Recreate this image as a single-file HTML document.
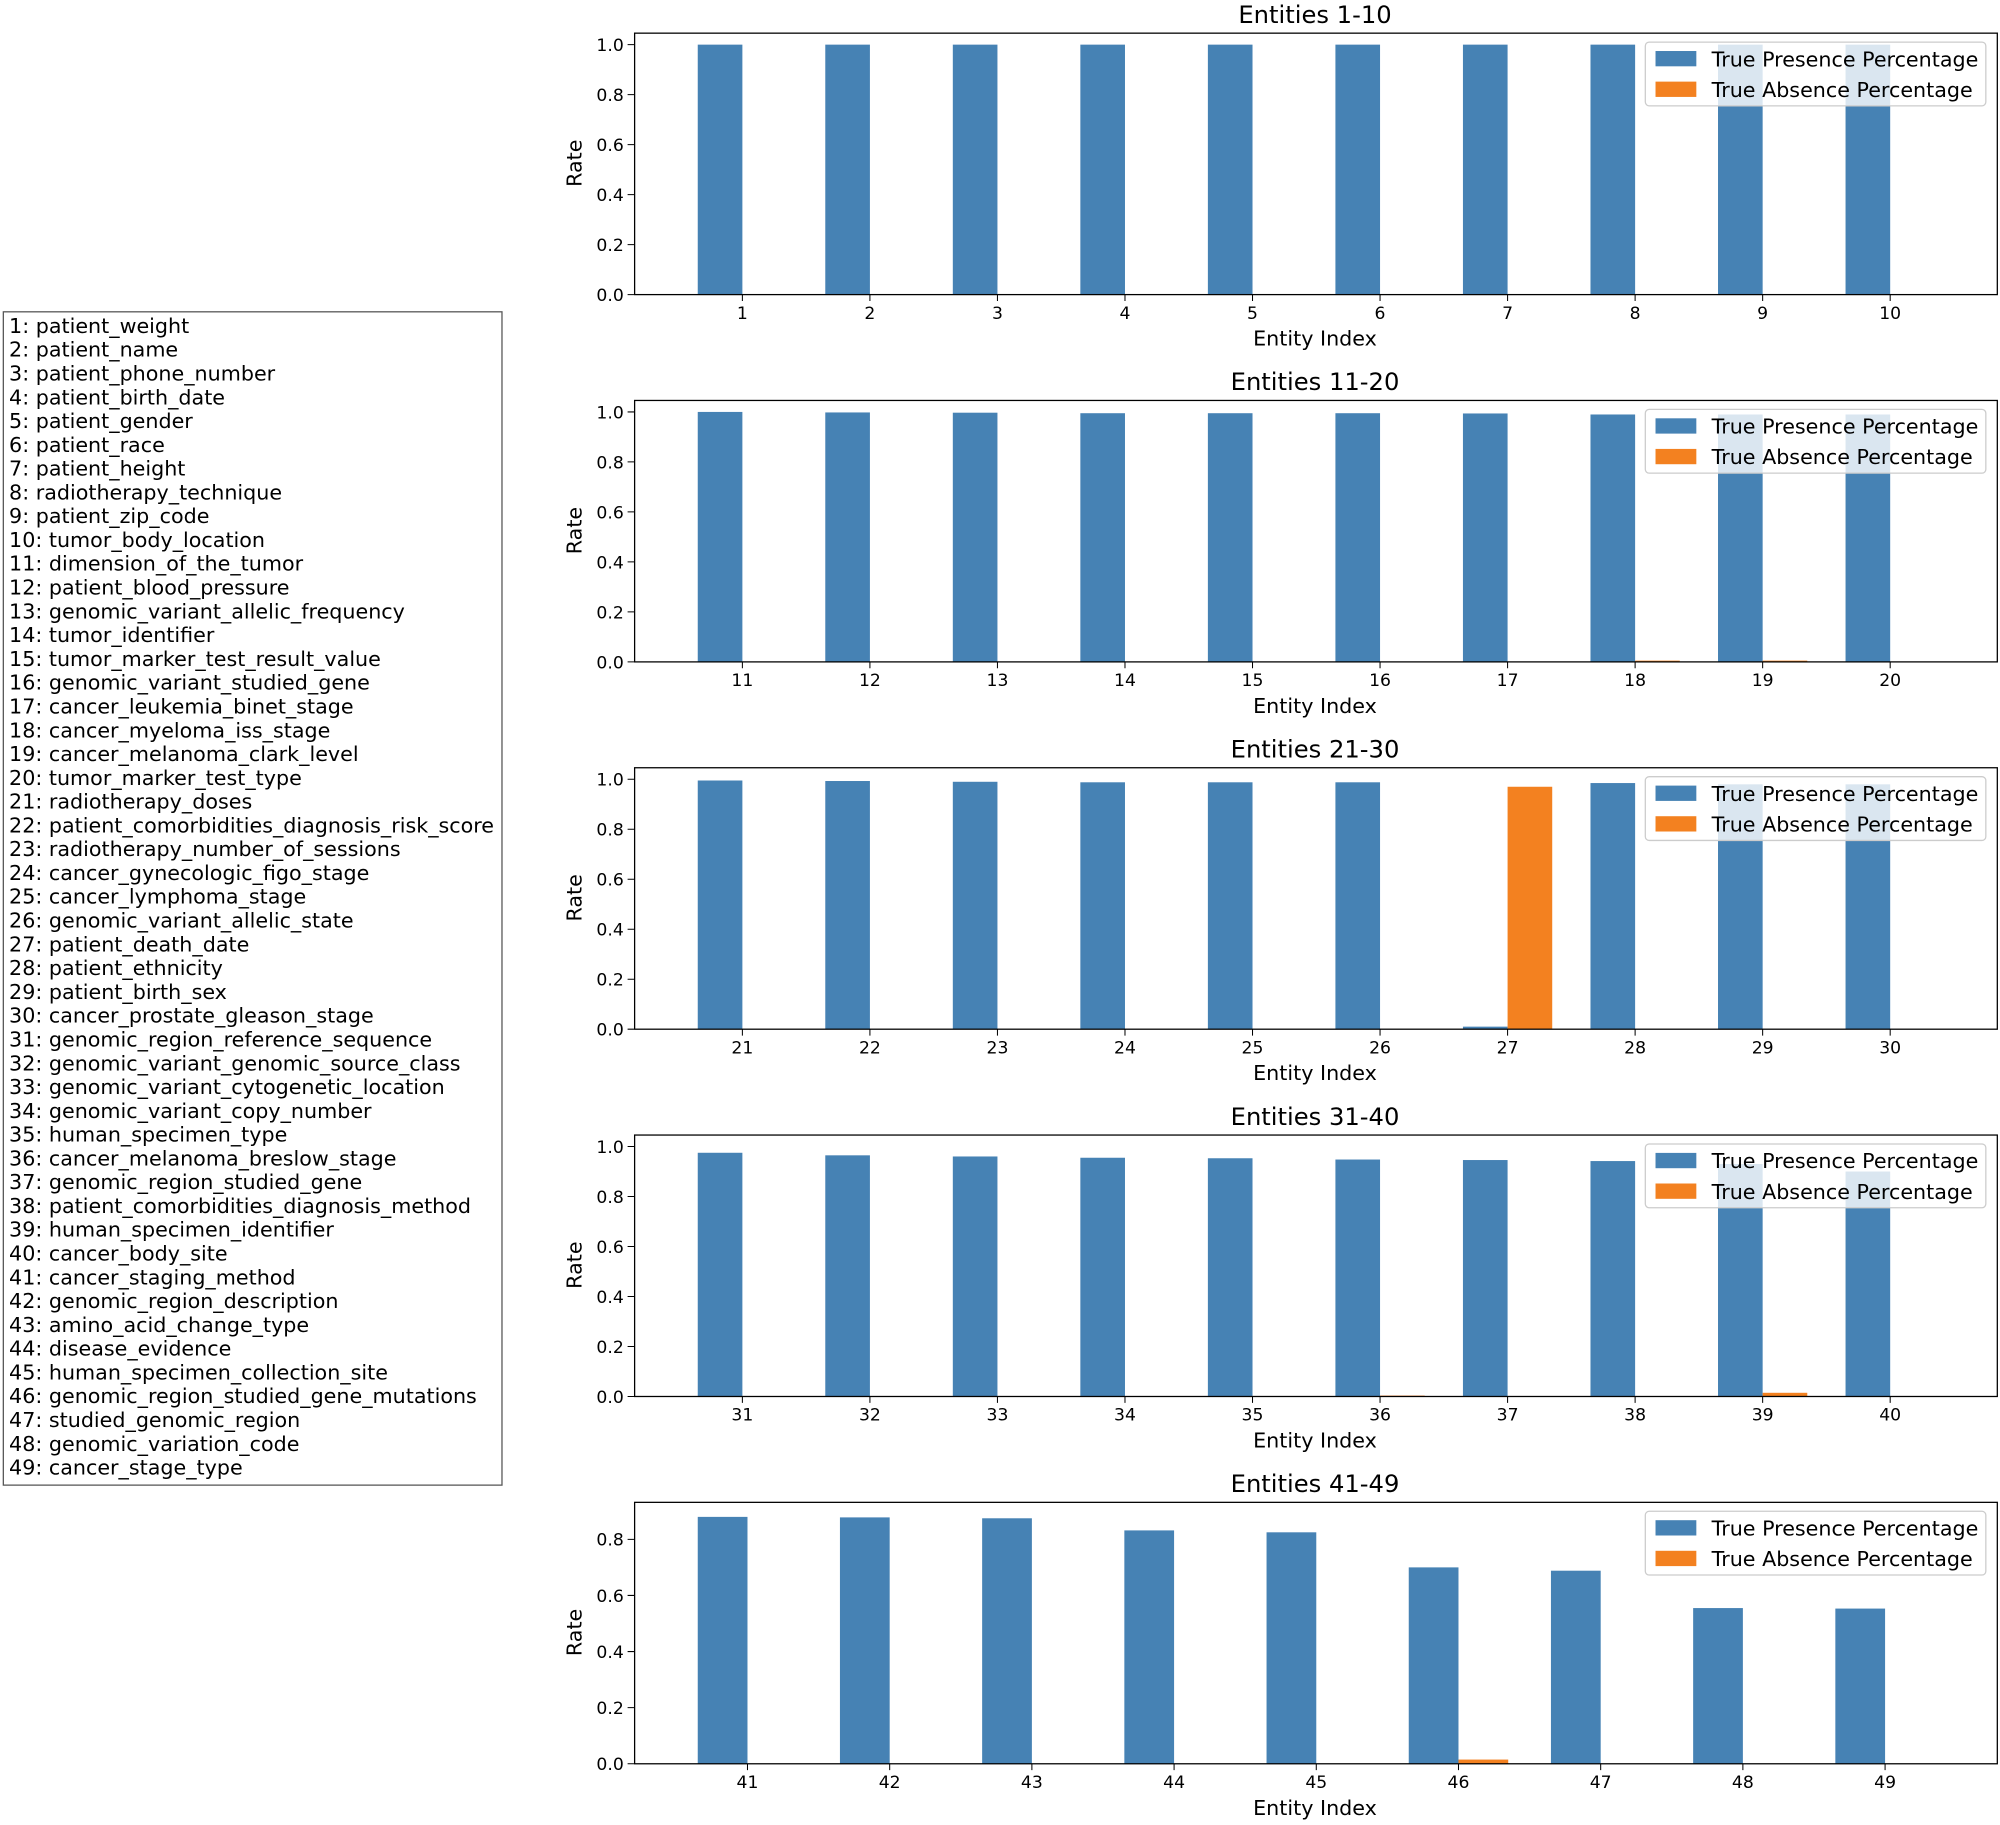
<!DOCTYPE html>
<html><head><meta charset="utf-8"><style>
html,body{margin:0;padding:0;background:#fff}
svg{display:block}
text{font-family:"DejaVu Sans","Liberation Sans",sans-serif;fill:#000}
.t{font-size:13.5px}
.yl text{text-anchor:end}
.xl text{text-anchor:middle}
.ax{font-size:16.2px}
.ti{font-size:19px;text-anchor:middle}
.lg{font-size:16.2px}
.b{fill:#4682b4}.o{fill:#f38120}
.nm{font-size:16.2px}
</style></head><body>
<svg width="2000" height="1825" viewBox="0 0 1568 1431" xmlns="http://www.w3.org/2000/svg">
<defs>
<g id="yt"><path d="M492 231H497M492 191.8H497M492 152.6H497M492 113.4H497M492 74.2H497M492 35H497" stroke="#000" stroke-width="0.8"/></g>
<g id="xt"><path d="M582 231V236M682 231V236M782 231V236M882 231V236M982 231V236M1082 231V236M1182 231V236M1282 231V236M1382 231V236M1482 231V236" stroke="#000" stroke-width="0.8"/></g>
<g id="lgb"><rect x="1290" y="33" width="267" height="50" rx="3" fill="#fff" fill-opacity="0.8" stroke="#ccc"/><rect x="1298" y="40" width="32" height="12" class="b"/><rect x="1298" y="64" width="32" height="12" class="o"/></g>
</defs>

<rect x="2.5" y="244.5" width="391" height="920" fill="#fff" stroke="#555"/>
<g class="nm">
<text x="7" y="261">1: patient_weight</text>
<text x="7" y="279.7">2: patient_name</text>
<text x="7" y="298.3">3: patient_phone_number</text>
<text x="7" y="317">4: patient_birth_date</text>
<text x="7" y="335.6">5: patient_gender</text>
<text x="7" y="354.3">6: patient_race</text>
<text x="7" y="372.9">7: patient_height</text>
<text x="7" y="391.6">8: radiotherapy_technique</text>
<text x="7" y="410.2">9: patient_zip_code</text>
<text x="7" y="428.9">10: tumor_body_location</text>
<text x="7" y="447.5">11: dimension_of_the_tumor</text>
<text x="7" y="466.2">12: patient_blood_pressure</text>
<text x="7" y="484.8">13: genomic_variant_allelic_frequency</text>
<text x="7" y="503.5">14: tumor_identifier</text>
<text x="7" y="522.1">15: tumor_marker_test_result_value</text>
<text x="7" y="540.8">16: genomic_variant_studied_gene</text>
<text x="7" y="559.4">17: cancer_leukemia_binet_stage</text>
<text x="7" y="578.1">18: cancer_myeloma_iss_stage</text>
<text x="7" y="596.7">19: cancer_melanoma_clark_level</text>
<text x="7" y="615.4">20: tumor_marker_test_type</text>
<text x="7" y="634">21: radiotherapy_doses</text>
<text x="7" y="652.7">22: patient_comorbidities_diagnosis_risk_score</text>
<text x="7" y="671.3">23: radiotherapy_number_of_sessions</text>
<text x="7" y="690">24: cancer_gynecologic_figo_stage</text>
<text x="7" y="708.6">25: cancer_lymphoma_stage</text>
<text x="7" y="727.3">26: genomic_variant_allelic_state</text>
<text x="7" y="745.9">27: patient_death_date</text>
<text x="7" y="764.6">28: patient_ethnicity</text>
<text x="7" y="783.2">29: patient_birth_sex</text>
<text x="7" y="801.9">30: cancer_prostate_gleason_stage</text>
<text x="7" y="820.5">31: genomic_region_reference_sequence</text>
<text x="7" y="839.2">32: genomic_variant_genomic_source_class</text>
<text x="7" y="857.8">33: genomic_variant_cytogenetic_location</text>
<text x="7" y="876.5">34: genomic_variant_copy_number</text>
<text x="7" y="895.1">35: human_specimen_type</text>
<text x="7" y="913.8">36: cancer_melanoma_breslow_stage</text>
<text x="7" y="932.4">37: genomic_region_studied_gene</text>
<text x="7" y="951.1">38: patient_comorbidities_diagnosis_method</text>
<text x="7" y="969.7">39: human_specimen_identifier</text>
<text x="7" y="988.4">40: cancer_body_site</text>
<text x="7" y="1007">41: cancer_staging_method</text>
<text x="7" y="1025.7">42: genomic_region_description</text>
<text x="7" y="1044.3">43: amino_acid_change_type</text>
<text x="7" y="1063">44: disease_evidence</text>
<text x="7" y="1081.6">45: human_specimen_collection_site</text>
<text x="7" y="1100.3">46: genomic_region_studied_gene_mutations</text>
<text x="7" y="1118.9">47: studied_genomic_region</text>
<text x="7" y="1137.6">48: genomic_variation_code</text>
<text x="7" y="1156.2">49: cancer_stage_type</text>
</g>

<g>
<rect x="547" y="35" width="35" height="196" class="b"/><rect x="647" y="35" width="35" height="196" class="b"/><rect x="747" y="35" width="35" height="196" class="b"/><rect x="847" y="35" width="35" height="196" class="b"/><rect x="947" y="35" width="35" height="196" class="b"/><rect x="1047" y="35" width="35" height="196" class="b"/><rect x="1147" y="35" width="35" height="196" class="b"/><rect x="1247" y="35" width="35" height="196" class="b"/><rect x="1347" y="35" width="35" height="196" class="b"/><rect x="1447" y="35" width="35" height="196" class="b"/>
<use href="#lgb"/>
<text x="1342" y="52" class="lg">True Presence Percentage</text><text x="1342" y="76" class="lg">True Absence Percentage</text>
<rect x="497.5" y="26" width="1068.5" height="205" fill="none" stroke="#000" stroke-width="1"/>
<use href="#yt"/><use href="#xt"/>
<g class="yl t"><text x="489" y="236">0.0</text><text x="489" y="196.8">0.2</text><text x="489" y="157.6">0.4</text><text x="489" y="118.4">0.6</text><text x="489" y="79.2">0.8</text><text x="489" y="40">1.0</text></g>
<g class="xl t"><text x="582" y="250">1</text><text x="682" y="250">2</text><text x="782" y="250">3</text><text x="882" y="250">4</text><text x="982" y="250">5</text><text x="1082" y="250">6</text><text x="1182" y="250">7</text><text x="1282" y="250">8</text><text x="1382" y="250">9</text><text x="1482" y="250">10</text></g>
<text x="1031" y="271" class="ax" text-anchor="middle">Entity Index</text>
<text transform="translate(456 128) rotate(-90)" class="ax" text-anchor="middle">Rate</text>
<text x="1031" y="18" class="ti">Entities 1-10</text>
</g>

<g transform="translate(0 288)">
<rect x="547" y="35" width="35" height="196" class="b"/><rect x="647" y="35.4" width="35" height="195.6" class="b"/><rect x="747" y="35.6" width="35" height="195.4" class="b"/><rect x="847" y="36" width="35" height="195" class="b"/><rect x="947" y="36" width="35" height="195" class="b"/><rect x="1047" y="36" width="35" height="195" class="b"/><rect x="1147" y="36.2" width="35" height="194.8" class="b"/><rect x="1247" y="37" width="35" height="194" class="b"/><rect x="1347" y="37" width="35" height="194" class="b"/><rect x="1447" y="37" width="35" height="194" class="b"/>
<rect x="1282" y="230" width="35" height="1" class="o"/><rect x="1382" y="230" width="35" height="1" class="o"/>
<use href="#lgb"/>
<text x="1342" y="52" class="lg">True Presence Percentage</text><text x="1342" y="76" class="lg">True Absence Percentage</text>
<rect x="497.5" y="26" width="1068.5" height="205" fill="none" stroke="#000" stroke-width="1"/>
<use href="#yt"/><use href="#xt"/>
<g class="yl t"><text x="489" y="236">0.0</text><text x="489" y="196.8">0.2</text><text x="489" y="157.6">0.4</text><text x="489" y="118.4">0.6</text><text x="489" y="79.2">0.8</text><text x="489" y="40">1.0</text></g>
<g class="xl t"><text x="582" y="250">11</text><text x="682" y="250">12</text><text x="782" y="250">13</text><text x="882" y="250">14</text><text x="982" y="250">15</text><text x="1082" y="250">16</text><text x="1182" y="250">17</text><text x="1282" y="250">18</text><text x="1382" y="250">19</text><text x="1482" y="250">20</text></g>
<text x="1031" y="271" class="ax" text-anchor="middle">Entity Index</text>
<text transform="translate(456 128) rotate(-90)" class="ax" text-anchor="middle">Rate</text>
<text x="1031" y="18" class="ti">Entities 11-20</text>
</g>

<g transform="translate(0 576)">
<rect x="547" y="36" width="35" height="195" class="b"/><rect x="647" y="36.4" width="35" height="194.6" class="b"/><rect x="747" y="37" width="35" height="194" class="b"/><rect x="847" y="37.4" width="35" height="193.6" class="b"/><rect x="947" y="37.4" width="35" height="193.6" class="b"/><rect x="1047" y="37.4" width="35" height="193.6" class="b"/><rect x="1147" y="229" width="35" height="2" class="b"/><rect x="1247" y="38" width="35" height="193" class="b"/><rect x="1347" y="39" width="35" height="192" class="b"/><rect x="1447" y="39" width="35" height="192" class="b"/>
<rect x="1182" y="40.9" width="35" height="190.1" class="o"/>
<use href="#lgb"/>
<text x="1342" y="52" class="lg">True Presence Percentage</text><text x="1342" y="76" class="lg">True Absence Percentage</text>
<rect x="497.5" y="26" width="1068.5" height="205" fill="none" stroke="#000" stroke-width="1"/>
<use href="#yt"/><use href="#xt"/>
<g class="yl t"><text x="489" y="236">0.0</text><text x="489" y="196.8">0.2</text><text x="489" y="157.6">0.4</text><text x="489" y="118.4">0.6</text><text x="489" y="79.2">0.8</text><text x="489" y="40">1.0</text></g>
<g class="xl t"><text x="582" y="250">21</text><text x="682" y="250">22</text><text x="782" y="250">23</text><text x="882" y="250">24</text><text x="982" y="250">25</text><text x="1082" y="250">26</text><text x="1182" y="250">27</text><text x="1282" y="250">28</text><text x="1382" y="250">29</text><text x="1482" y="250">30</text></g>
<text x="1031" y="271" class="ax" text-anchor="middle">Entity Index</text>
<text transform="translate(456 128) rotate(-90)" class="ax" text-anchor="middle">Rate</text>
<text x="1031" y="18" class="ti">Entities 21-30</text>
</g>

<g transform="translate(0 864)">
<rect x="547" y="39.9" width="35" height="191.1" class="b"/><rect x="647" y="41.9" width="35" height="189.1" class="b"/><rect x="747" y="42.8" width="35" height="188.2" class="b"/><rect x="847" y="43.8" width="35" height="187.2" class="b"/><rect x="947" y="44.2" width="35" height="186.8" class="b"/><rect x="1047" y="45.2" width="35" height="185.8" class="b"/><rect x="1147" y="45.6" width="35" height="185.4" class="b"/><rect x="1247" y="46.4" width="35" height="184.6" class="b"/><rect x="1347" y="48.7" width="35" height="182.3" class="b"/><rect x="1447" y="54.6" width="35" height="176.4" class="b"/>
<rect x="1082" y="230.3" width="35" height="0.7" class="o"/><rect x="1382" y="228.1" width="35" height="2.9" class="o"/>
<use href="#lgb"/>
<text x="1342" y="52" class="lg">True Presence Percentage</text><text x="1342" y="76" class="lg">True Absence Percentage</text>
<rect x="497.5" y="26" width="1068.5" height="205" fill="none" stroke="#000" stroke-width="1"/>
<use href="#yt"/><use href="#xt"/>
<g class="yl t"><text x="489" y="236">0.0</text><text x="489" y="196.8">0.2</text><text x="489" y="157.6">0.4</text><text x="489" y="118.4">0.6</text><text x="489" y="79.2">0.8</text><text x="489" y="40">1.0</text></g>
<g class="xl t"><text x="582" y="250">31</text><text x="682" y="250">32</text><text x="782" y="250">33</text><text x="882" y="250">34</text><text x="982" y="250">35</text><text x="1082" y="250">36</text><text x="1182" y="250">37</text><text x="1282" y="250">38</text><text x="1382" y="250">39</text><text x="1482" y="250">40</text></g>
<text x="1031" y="271" class="ax" text-anchor="middle">Entity Index</text>
<text transform="translate(456 128) rotate(-90)" class="ax" text-anchor="middle">Rate</text>
<text x="1031" y="18" class="ti">Entities 31-40</text>
</g>

<g transform="translate(0 1152)">
<rect x="547" y="37.4" width="39" height="193.6" class="b"/><rect x="658.5" y="37.8" width="39" height="193.2" class="b"/><rect x="770" y="38.5" width="39" height="192.5" class="b"/><rect x="881.5" y="48" width="39" height="183" class="b"/><rect x="993" y="49.5" width="39" height="181.5" class="b"/><rect x="1104.5" y="77" width="39" height="154" class="b"/><rect x="1216" y="79.6" width="39" height="151.4" class="b"/><rect x="1327.5" y="108.9" width="39" height="122.1" class="b"/><rect x="1439" y="109.3" width="39" height="121.7" class="b"/>
<rect x="1143.5" y="227.7" width="39" height="3.3" class="o"/>
<use href="#lgb"/>
<text x="1342" y="52" class="lg">True Presence Percentage</text><text x="1342" y="76" class="lg">True Absence Percentage</text>
<rect x="497.5" y="26" width="1068.5" height="205" fill="none" stroke="#000" stroke-width="1"/>
<path d="M492 231H497M492 187H497M492 143H497M492 99H497M492 55H497" stroke="#000" stroke-width="0.8"/>
<path d="M586 231V236M697.5 231V236M809 231V236M920.5 231V236M1032 231V236M1143.5 231V236M1255 231V236M1366.5 231V236M1478 231V236" stroke="#000" stroke-width="0.8"/>
<g class="yl t"><text x="489" y="236">0.0</text><text x="489" y="192">0.2</text><text x="489" y="148">0.4</text><text x="489" y="104">0.6</text><text x="489" y="60">0.8</text></g>
<g class="xl t"><text x="586" y="250">41</text><text x="697.5" y="250">42</text><text x="809" y="250">43</text><text x="920.5" y="250">44</text><text x="1032" y="250">45</text><text x="1143.5" y="250">46</text><text x="1255" y="250">47</text><text x="1366.5" y="250">48</text><text x="1478" y="250">49</text></g>
<text x="1031" y="271" class="ax" text-anchor="middle">Entity Index</text>
<text transform="translate(456 128) rotate(-90)" class="ax" text-anchor="middle">Rate</text>
<text x="1031" y="18" class="ti">Entities 41-49</text>
</g>
</svg>
</body></html>
